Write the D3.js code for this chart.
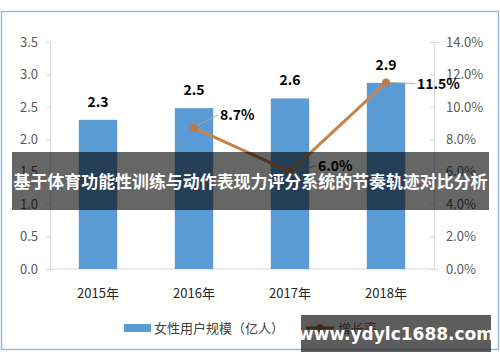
<!DOCTYPE html>
<html><head><meta charset="utf-8">
<script src="https://cdn.jsdelivr.net/npm/d3@7"></script>
<style>body{margin:0;background:#fff}svg{display:block}</style>
</head><body>
<svg id="c" width="500" height="362"></svg>
<script>
const categories = ["2015年","2016年","2017年","2018年"];
const userScale = [2.3, 2.48, 2.63, 2.87];
const growthCats = ["2016年","2017年","2018年"];
const growth = [8.7, 6.0, 11.5];
const leftTicks = [0,0.5,1.0,1.5,2.0,2.5,3.0,3.5];
const rightTicks = [0,2,4,6,8,10,12,14];
const legendLabels = ["女性用户规模（亿人）","增长率"];
const title = "基于体育功能性训练与动作表现力评分系统的节奏轨迹对比分析";
const watermark = "www.ydylc1688.com";

const svg = d3.select("#c");
const F = "'Noto Sans CJK SC','Noto Sans',sans-serif";
const m = {l:50, r:66, t:42, b:93};
const W = 500, H = 362;
const x = d3.scaleBand().domain(categories).range([m.l, W-m.r]).paddingInner(0.6).paddingOuter(0.3);
const yL = d3.scaleLinear().domain([0,3.5]).range([H-m.b, m.t]);
const yR = d3.scaleLinear().domain([0,14]).range([H-m.b, m.t]);

// frame
svg.append("rect").attr("x",1.5).attr("y",11.5).attr("width",497).attr("height",338)
  .attr("fill","#fff").attr("stroke","#9dbbd9").attr("stroke-width",1.5);

// axes
const gL = svg.append("g").attr("transform",`translate(${m.l},0)`)
  .call(d3.axisLeft(yL).tickValues(leftTicks).tickFormat(d3.format(".1f")).tickSize(4).tickPadding(8));
const gR = svg.append("g").attr("transform",`translate(${W-m.r},0)`)
  .call(d3.axisRight(yR).tickValues(rightTicks).tickFormat(d=>d3.format(".1f")(d)+"%").tickSize(4).tickPadding(8));
[gL,gR].forEach(g=>{
  g.select(".domain").attr("stroke","#d9d9d9");
  g.selectAll(".tick line").attr("stroke","#d9d9d9");
  g.selectAll(".tick text").attr("fill","#595959").style("font-family",F).style("font-size","13px");
});
gR.selectAll(".tick line").attr("x2",-4);
// baseline
svg.append("line").attr("x1",m.l).attr("x2",W-m.r).attr("y1",yL(0)).attr("y2",yL(0)).attr("stroke","#d9d9d9");

// bars
svg.append("g").selectAll("rect").data(userScale).join("rect")
  .attr("x",(d,i)=>x(categories[i])).attr("width",x.bandwidth())
  .attr("y",d=>yL(d)).attr("height",d=>yL(0)-yL(d)).attr("fill","#5b9bd5");
svg.append("g").selectAll("text").data(userScale).join("text")
  .attr("x",(d,i)=>x(categories[i])+x.bandwidth()/2).attr("y",d=>yL(d)-13)
  .attr("text-anchor","middle").style("font-family",F).style("font-size","14px").style("font-weight","bold")
  .attr("fill","#000").text(d=>d3.format(".1f")(d));

// x labels
svg.append("g").selectAll("text").data(categories).join("text")
  .attr("x",d=>x(d)+x.bandwidth()/2).attr("y",yL(0)+29).attr("text-anchor","middle")
  .style("font-family",F).style("font-size","13px").attr("fill","#262626").text(d=>d);

// line
const px = c=>x(c)+x.bandwidth()/2;
const pts = growth.map((g,i)=>[px(growthCats[i]), yR(g)]);
svg.append("path").attr("d",d3.line()(pts)).attr("fill","none").attr("stroke","#c8834b").attr("stroke-width",3);
svg.append("g").selectAll("circle").data(pts).join("circle")
  .attr("cx",d=>d[0]).attr("cy",d=>d[1]).attr("r",4).attr("fill","#c07a45");
// labels with leader lines
const offs = [[26,-13],[28,-6],[31,1]];
growth.forEach((g,i)=>{
  const [cx,cy]=pts[i]; const [dx,dy]=offs[i];
  svg.append("line").attr("x1",cx+4).attr("y1",cy-(dy<-8?3:0)).attr("x2",cx+dx-2).attr("y2",cy+dy)
    .attr("stroke","#a6a6a6").attr("stroke-width",1);
  svg.append("text").attr("x",cx+dx).attr("y",cy+dy+5).style("font-family",F).style("font-size","14px")
    .style("font-weight","bold").attr("fill","#000").text(d3.format(".1f")(g)+"%");
});

// legend
const ly = 328;
svg.append("rect").attr("x",124).attr("y",ly-4).attr("width",27).attr("height",8).attr("fill","#5b9bd5");
svg.append("text").attr("x",154).attr("y",ly+5).style("font-family",F).style("font-size","13px").attr("fill","#404040").text(legendLabels[0]);
svg.append("line").attr("x1",306).attr("x2",334).attr("y1",ly).attr("y2",ly).attr("stroke","#8b4a1f").attr("stroke-width",3);
svg.append("circle").attr("cx",320).attr("cy",ly).attr("r",4).attr("fill","#8b4a1f");
svg.append("text").attr("x",338).attr("y",ly+5).style("font-family",F).style("font-size","13px").attr("fill","#404040").text(legendLabels[1]);

// banner
svg.append("rect").attr("x",12).attr("y",152).attr("width",477).attr("height",58).attr("fill","rgba(0,0,0,0.6)");
svg.append("text").attr("x",250.5).attr("y",188).attr("text-anchor","middle").style("font-family",F)
  .style("font-size","17px").style("font-weight","bold").attr("fill","#fff")
  .attr("textLength",474).attr("lengthAdjust","spacingAndGlyphs").text(title);

// watermark
svg.append("rect").attr("x",301).attr("y",315).attr("width",190).attr("height",37).attr("fill","rgba(30,30,30,0.72)");
svg.append("text").attr("x",396).attr("y",340).attr("text-anchor","middle").style("font-family","'DejaVu Sans',sans-serif")
  .style("font-size","17px").style("font-weight","bold").attr("fill","#fff").text(watermark);
</script>
</body></html>
